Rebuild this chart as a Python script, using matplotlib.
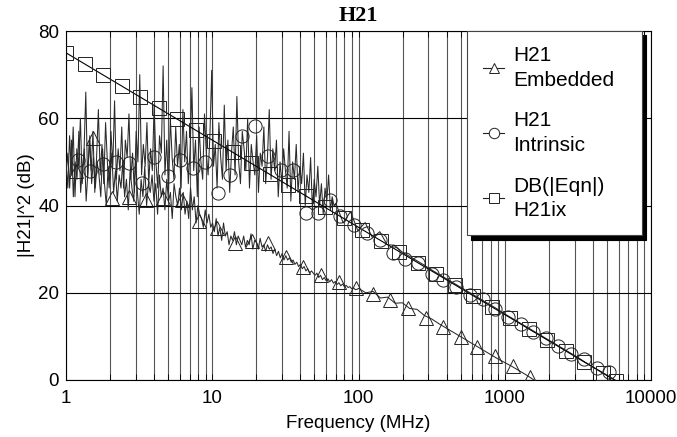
import numpy as np
import matplotlib
matplotlib.use("Agg")
import matplotlib.pyplot as plt
from matplotlib.lines import Line2D
from matplotlib.ticker import LogLocator, FixedLocator, NullFormatter

plt.rcParams['font.family'] = ['Liberation Sans', 'DejaVu Sans']

# ---- data ----
# noisy low-frequency part of H21 Intrinsic, 1 .. 68 MHz (log sweep)
intr_noisy = [
    50, 44, 56, 47, 58, 42, 53, 49, 60, 45, 52, 66, 46, 55, 48,
    57, 43, 51, 62, 47, 54, 45, 59, 50, 44, 57, 49, 64, 46, 53,
    48, 58, 44, 55, 51, 61, 46, 52, 43, 57, 50, 70, 47, 54, 49,
    59, 45, 53, 48, 63, 50, 44, 56, 52, 72, 47, 55, 43, 60, 51,
    46, 58, 49, 54, 44, 62, 50, 57, 45, 53, 67, 48, 55, 42, 58,
    50, 46, 61, 52, 47, 56, 71, 49, 54, 44, 59, 51, 46, 63, 48,
    55, 43, 52, 58, 47, 65, 50, 45, 57, 53, 48, 60, 44, 54, 50,
    47, 56, 43, 52, 49, 58, 45, 51, 62, 46, 53, 48, 55, 42, 50,
    45, 53, 48, 44, 57, 41, 50, 46, 54, 43, 49, 45, 52, 40, 47,
    43, 51, 39, 46, 42, 49, 40, 45, 38, 44, 41, 47, 39, 42, 40,
]
# smooth part of H21 Intrinsic, 70 .. 6300 MHz
intr_tail = [
    40.5, 36.0, 38.6, 34.2, 36.1, 32.6, 34.0, 31.0, 30.9, 29.4,
    28.4, 27.4, 26.4, 25.3, 24.3, 23.3, 22.3, 21.3, 20.3, 19.3,
    18.3, 17.3, 16.3, 15.2, 14.2, 13.2, 12.2, 11.2, 10.2, 9.2,
    8.2, 7.2, 6.2, 5.2, 4.1, 3.1, 2.1, 1.1, 0.1, -0.9,
]
# noisy low-frequency part of H21 Embedded, 1 .. 100 MHz
emb_noisy = [
    47, 52, 44, 55, 42, 50, 46, 57, 43, 49, 53, 41, 48, 56, 45, 51,
    44, 50, 47, 42, 53, 45, 40, 49, 46, 52, 43, 48, 41, 47, 44, 50,
    42, 46, 39, 48, 44, 41, 50, 43, 38, 46, 42, 49, 40, 45, 43, 47,
    41, 45, 38, 47, 42, 44, 39, 46, 41, 43, 37, 45, 42, 40, 44, 39,
    43, 38, 41, 37, 44, 39, 42, 36, 40, 38, 37, 35, 39, 36, 38, 35,
    36, 34, 37, 33, 35, 32, 36, 33, 34, 31, 33, 32, 34, 31, 33, 32,
    31, 33, 30.5, 32, 31, 33.5, 30, 32, 31.5, 30, 32.5, 30.5, 31, 29.5, 31, 30,
    30.5, 29, 30, 28.5, 29.5, 28, 29, 27.5, 28.5, 27.5, 28, 27, 27.5, 26.5, 27, 26,
    26.5, 25.5, 26, 25, 25.5, 24.5, 25, 24.5, 24, 24.5, 23.5, 24, 23, 23.5, 22.8, 23.2,
    22.5, 23, 22.2, 22.6, 21.9, 22.3, 21.6, 22, 21.4, 21.7, 21.2, 21.4, 20.9, 21.1, 20.7, 20.8,
]
# smooth part of H21 Embedded, 100 .. 1585 MHz
emb_tail = [
    21.0, 20.0, 20.3, 18.8, 19.0, 17.6, 17.7, 16.4, 16.2, 14.8,
    14.0, 12.9, 11.9, 10.9, 9.9, 8.9, 7.9, 6.9, 5.9, 4.9,
    4.0, 3.1, 2.1, 1.1, 0.0,
]

# marker positions
emb_mk_f = [1.17, 1.53, 2.06, 2.7, 3.5, 4.6, 6.2, 8.1, 10.8, 14.3, 18.7, 24, 32, 42, 55,
            74, 96, 126, 165, 218, 290, 378, 500, 650, 860, 1140, 1490]
emb_mk_y = [48, 55.5, 41.7, 42, 41.3, 41.7, 41.3, 36.5, 34.9, 31.4, 31.9, 31.4, 28.2, 26, 24.1,
            22.5, 21.1, 19.8, 18.3, 16.5, 14.2, 12.2, 9.9, 7.6, 5.5, 3.2, 0.7]

intr_mk_f = [1.2, 1.47, 1.8, 2.2, 2.7, 3.3, 4.0, 5.0, 6.0, 7.4, 8.9, 10.9, 13.2, 16.1, 19.6,
             24, 29.5, 35.7, 43.7, 52.8, 63.6, 75, 93, 115, 140, 172, 208, 254, 318, 378,
             465, 580, 705, 860, 1050, 1290, 1560, 1910, 2300, 2830, 3500, 4240, 5200]
intr_mk_y = [50.5, 48, 49.5, 50, 49.8, 45.2, 51.2, 46.8, 50.5, 48.6, 50, 42.9, 47, 56, 58.3,
             51.4, 48.2, 48.2, 38.3, 38.3, 41.3, 37.5, 35.5, 33.6, 32.2, 29, 27.7, 26.8, 24.2, 22.9,
             21.3, 19.5, 18.6, 16.2, 14.4, 12.8, 11, 9.6, 7.8, 6, 4.8, 2.8, 1.8]

eqn_f = [1, 1.34, 1.79, 2.4, 3.2, 4.3, 5.75, 7.7, 10.3, 13.8, 18.5, 24.7, 33, 44, 59, 79,
         106, 142, 190, 254, 340, 455, 608, 813, 1090, 1460, 1950, 2610, 3490, 4670, 5800]
eqn_y = [75, 72.46, 69.94, 67.40, 64.90, 62.33, 59.81, 57.27, 54.74, 52.20, 49.66, 47.15,
         44.63, 42.13, 39.58, 37.05, 34.49, 31.95, 29.43, 26.90, 24.37, 21.84, 19.32, 16.80,
         14.25, 11.71, 9.20, 6.67, 4.14, 1.61, -0.27]

labels = ["H21\nEmbedded", "H21\nIntrinsic", "DB(|Eqn|)\nH21ix"]

# sweep grids
f_intr = np.concatenate([np.geomspace(1, 68, len(intr_noisy)),
                         np.geomspace(70, 6300, len(intr_tail))])
y_intr = np.array(intr_noisy + intr_tail, dtype=float)
f_emb = np.concatenate([np.geomspace(1, 98, len(emb_noisy)),
                        np.geomspace(100, 1585, len(emb_tail))])
y_emb = np.array(emb_noisy + emb_tail, dtype=float)

fig = plt.figure(figsize=(6.77, 4.37), dpi=100)
ax = fig.add_axes([66/677, 1-380/437, 585/677, 349/437])

lc = '#222222'
ax.plot(f_intr, y_intr, color='#2a2a2a', lw=0.75, zorder=3)
ax.plot(f_emb, y_emb, color='#2a2a2a', lw=0.75, zorder=3)
ax.plot(eqn_f, eqn_y, color='black', lw=0.8, zorder=4)

mk = dict(ls='none', mfc='none', mec=lc, mew=0.7, ms=9.5, zorder=5)
ax.plot(emb_mk_f, emb_mk_y, marker='^', **mk)
ax.plot(intr_mk_f, intr_mk_y, marker='o', **mk)
ax.plot(eqn_f, eqn_y, marker='s', **mk)

ax.set_xscale('log')
ax.set_xlim(1, 10000)
ax.set_ylim(0, 80)
ax.xaxis.set_major_locator(FixedLocator([1, 10, 100, 1000, 10000]))
ax.xaxis.set_minor_locator(LogLocator(base=10, subs=np.arange(2, 10), numticks=20))
ax.xaxis.set_minor_formatter(NullFormatter())
ax.set_xticklabels(['1', '10', '100', '1000', '10000'])
ax.set_yticks([0, 20, 40, 60, 80])

ax.grid(True, which='both', axis='x', color='#555555', lw=0.8)
ax.grid(True, which='major', axis='y', color='black', lw=0.8)
ax.set_axisbelow(True)
ax.tick_params(axis='x', which='both', direction='in', top=True, length=4, width=0.6,
               labelsize=13.5, pad=7)
ax.tick_params(axis='y', which='both', length=0, labelsize=13.5, pad=5)
for s in ax.spines.values():
    s.set_linewidth(0.8)

ax.set_xlabel('Frequency (MHz)', fontsize=13.5, labelpad=6)
ax.set_ylabel('|H21|^2 (dB)', fontsize=13.5, labelpad=2)
ax.set_title('H21', fontsize=16, fontweight='bold', family='Liberation Serif', pad=7)

handles = [
    Line2D([], [], color=lc, lw=0.8, marker='^', mfc='white', mec=lc, ms=7.5, mew=0.7),
    Line2D([], [], color=lc, lw=0.8, marker='o', mfc='white', mec=lc, ms=7.5, mew=0.7),
    Line2D([], [], color=lc, lw=0.8, marker='s', mfc='white', mec=lc, ms=7.5, mew=0.7),
]
leg = ax.legend(handles, labels, loc='upper left', mode='expand',
                bbox_to_anchor=(467/677, 1-35/437, 175/677, 0.01),
                bbox_transform=fig.transFigure, fontsize=15, frameon=True,
                fancybox=False, framealpha=1, edgecolor='#444444',
                shadow={'color': 'black', 'alpha': 1, 'ox': 3, 'oy': -3},
                handlelength=1.05, handletextpad=0.4, labelspacing=1.05,
                borderpad=0.75, borderaxespad=0)
for t in leg.get_texts():
    t.set_linespacing(1.35)
leg.get_frame().set_linewidth(0.8)
leg.set_zorder(10)

fig.savefig('out.png', dpi=100)
